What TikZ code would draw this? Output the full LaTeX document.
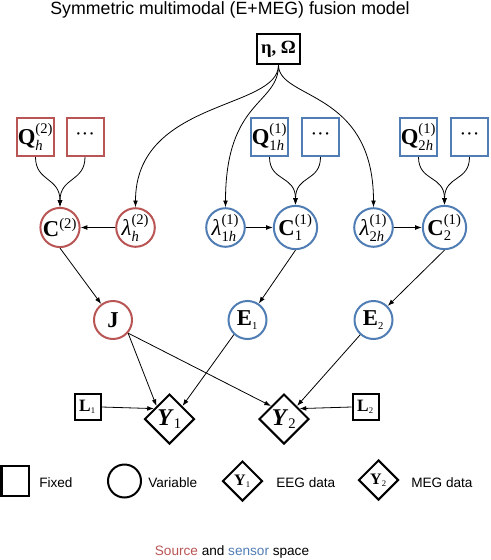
\documentclass[tikz,border=0pt]{standalone}
\usepackage{amsmath}
\usepackage{fontspec}
\setmainfont{Liberation Serif}
\setsansfont{Liberation Sans}
\usetikzlibrary{arrows.meta,shapes.geometric,calc}
\definecolor{srcred}{RGB}{185,85,85}
\definecolor{senblue}{RGB}{80,125,180}
\newcommand\spf{\fontsize{11}{12}\selectfont}
\newcommand\sbf{\fontsize{8}{9}\selectfont}
\newcommand\ssf{\fontsize{6.5}{7}\selectfont}
\newcommand\mydots{{\fontsize{15}{15}\selectfont ···}}
\begin{document}
\begin{tikzpicture}[x=0.75pt,y=-0.75pt,
 lbl/.style={font=\fontsize{17}{20}\selectfont, inner sep=0pt},
 fbox/.style={draw, line width=1.5pt, rectangle, inner sep=0pt, minimum width=27.75pt, minimum height=28.5pt, lbl},
 var/.style={draw, line width=1.5pt, circle, inner sep=0pt, minimum size=28.5pt, lbl},
 dat/.style={draw, line width=1.5pt, diamond, aspect=1, inner sep=0pt, minimum size=37.5pt, font=\fontsize{18}{20}\selectfont},
 arr/.style={line width=0.6pt, -{Latex[length=5pt,width=3.6pt]}},
 lgtxt/.style={font=\sffamily\fontsize{10.2}{12}\selectfont, anchor=base west, inner sep=0pt},
 ]
\useasboundingbox (0,0) rectangle (490,560);

\node[font=\sffamily\fontsize{13.3}{16}\selectfont, anchor=base, inner sep=0pt] (title) at (230,15) {Symmetric multimodal (E+MEG) fusion model};

\node[fbox, minimum width=32.25pt, minimum height=22.5pt, font=\fontsize{14}{16}\selectfont\bfseries] (eta) at (278.5,49) {η, Ω};

% parameter boxes
\node[fbox, draw=srcred] (Qh2) at (35.5,137) {$\textbf{Q}^{\text{\spf(2)}}_{\text{\spf\itshape h}}$};
\node[fbox, draw=srcred] (Dh2) at (85,137) {\mydots};
\node[fbox, draw=senblue] (Q1) at (269.5,137) {$\textbf{Q}^{\text{\spf(1)}}_{\text{\spf1\itshape h}}$};
\node[fbox, draw=senblue] (D1) at (320.5,137) {\mydots};
\node[fbox, draw=senblue] (Q2) at (418.5,137) {$\textbf{Q}^{\text{\spf(1)}}_{\text{\spf2\itshape h}}$};
\node[fbox, draw=senblue] (D2) at (469.5,137) {\mydots};

% hyperparameter / covariance circles
\node[var, draw=srcred] (C2) at (60,227.5) {$\textbf{C}^{\text{\spf(2)}}$};
\node[var, draw=srcred] (lh2) at (135.5,227.5) {$\text{\itshape λ}^{\text{\spf(2)}}_{\text{\spf\itshape h}}$};
\node[var, draw=senblue] (l1) at (225.5,227.5) {$\text{\itshape λ}^{\text{\spf(1)}}_{\text{\spf1\itshape h}}$};
\node[var, draw=senblue] (C1) at (295.5,227.5) {$\textbf{C}^{\text{\spf(1)}}_{\text{\spf1}}$};
\node[var, draw=senblue] (l2) at (373.5,227.5) {$\text{\itshape λ}^{\text{\spf(1)}}_{\text{\spf2\itshape h}}$};
\node[var, draw=senblue] (C2b) at (444.5,227.5) {$\textbf{C}^{\text{\spf(1)}}_{\text{\spf2}}$};

% sources and sensor noise
\node[var, draw=srcred] (J) at (113,320) {\textbf{J}};
\node[var, draw=senblue] (E1) at (247.5,320) {$\textbf{E}_{\text{\sbf1}}$};
\node[var, draw=senblue] (E2) at (373.5,320) {$\textbf{E}_{\text{\sbf2}}$};

% data
\node[dat] (Y1) at (169.5,419) {$\textbf{\textit{Y}}_{\text{\spf1}}$};
\node[dat] (Y2) at (284,419) {$\textbf{\textit{Y}}_{\text{\spf2}}$};
\node[fbox, minimum width=19.5pt, minimum height=19.5pt, font=\fontsize{13}{14}\selectfont] (L1) at (87.5,407) {$\textbf{L}_{\text{\ssf1}}$};
\node[fbox, minimum width=19.5pt, minimum height=19.5pt, font=\fontsize{13}{14}\selectfont] (L2) at (365.5,407) {$\textbf{L}_{\text{\ssf2}}$};

% connectors
\draw[arr] (eta.south) .. controls +(0,45) and +(0,-108) .. (lh2.north);
\draw[arr] (eta.south) .. controls +(0,40) and +(0,-108) .. (l1.north);
\draw[arr] (eta.south) .. controls +(0,35) and +(0,-118) .. (l2.north);

\draw[arr] (Qh2.south) .. controls +(0,25) and +(0,-30) .. (C2.north);
\draw[arr] (Dh2.south) .. controls +(0,25) and +(0,-30) .. (C2.north);
\draw[arr] (Q1.south) .. controls +(0,25) and +(0,-30) .. (C1.north);
\draw[arr] (D1.south) .. controls +(0,25) and +(0,-30) .. (C1.north);
\draw[arr] (Q2.south) .. controls +(0,25) and +(0,-30) .. (C2b.north);
\draw[arr] (D2.south) .. controls +(0,25) and +(0,-30) .. (C2b.north);

\draw[arr] (lh2.west) -- (C2.east);
\draw[arr] (l1.east) -- (C1.west);
\draw[arr] (l2.east) -- (C2b.west);

\draw[arr] (C2.south) -- (J);
\draw[arr] (C1.south) -- (E1);
\draw[arr] (C2b.south) -- (E2);

\draw[arr] (J.-41) -- ($(Y1.west)!0.5!(Y1.north)$);
\draw[arr] (J.-41) -- ($(Y2.west)!0.5!(Y2.north)$);
\draw[arr] (E1.227) -- ($(Y1.east)!0.5!(Y1.north)$);
\draw[arr] (E2.228) -- ($(Y2.east)!0.5!(Y2.north)$);
\draw[arr] (L1.east) -- ($(Y1.west)!0.4!(Y1.north)$);
\draw[arr] (L2.west) -- ($(Y2.east)!0.4!(Y2.north)$);

% legend
\node[draw, line width=1.5pt, minimum width=20.25pt, minimum height=22.5pt, inner sep=0pt] (lgsq) at (15,481) {};
\node[lgtxt] (lgfix) at (39,487) {Fixed};
\node[draw, circle, line width=1.5pt, minimum size=24.75pt, inner sep=0pt] (lgci) at (124.5,481) {};
\node[lgtxt] (lgvar) at (148,487) {Variable};
\node[dat, minimum size=30pt, font=\fontsize{12}{14}\selectfont] (lgy1) at (242.5,481) {$\textbf{Y}_{\text{\ssf1}}$};
\node[lgtxt] (lgeeg) at (276,487) {EEG data};
\node[dat, minimum size=30pt, font=\fontsize{12}{14}\selectfont] (lgy2) at (378.5,480) {$\textbf{Y}_{\text{\ssf2}}$};
\node[lgtxt] (lgmeg) at (411,487) {MEG data};

\node[font=\sffamily\fontsize{10.2}{12}\selectfont, anchor=base, inner sep=0pt] (src) at (232,555) {\textcolor{srcred}{Source} and \textcolor{senblue}{sensor} space};
\end{tikzpicture}
\end{document}
